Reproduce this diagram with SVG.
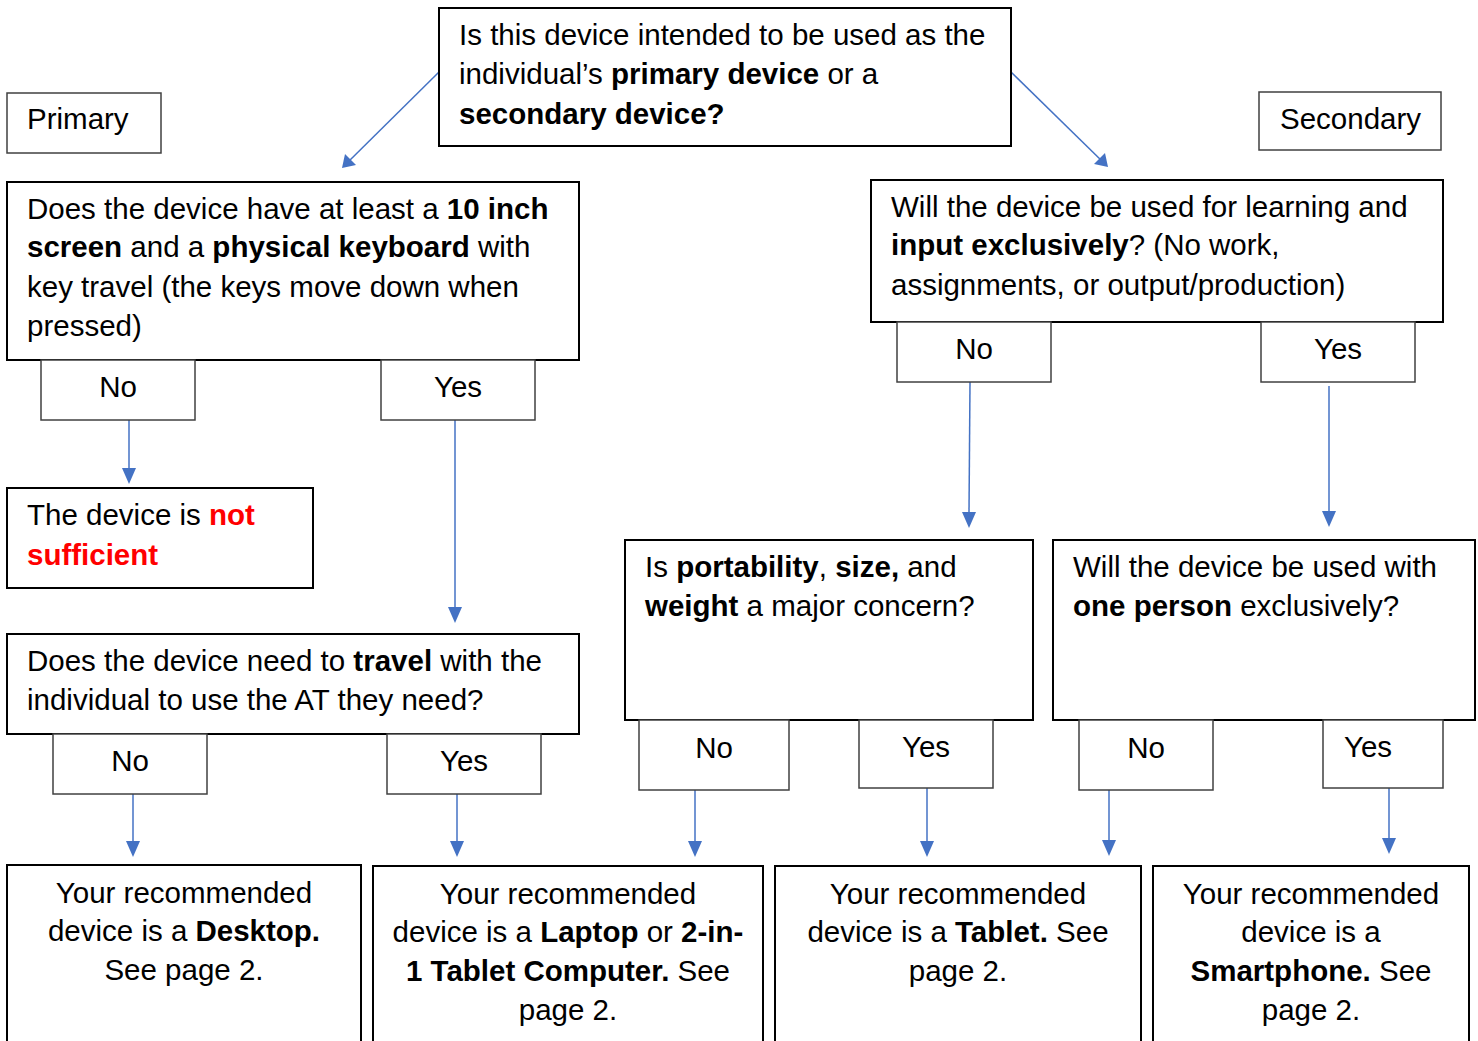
<svg xmlns="http://www.w3.org/2000/svg" width="1478" height="1041" viewBox="0 0 1478 1041">
<style>
.box{fill:#fff;stroke:#000;stroke-width:2}
.lbl{fill:#fff;stroke:#404040;stroke-width:1.5}
text{font-family:"Liberation Sans",Arial,sans-serif;font-size:29.5px;fill:#000}
.c{text-anchor:middle}
.b{font-weight:bold}
.r{fill:#ff0000;font-weight:bold}
.con{stroke:#4472C4;stroke-width:1.5;fill:none}
.ah{fill:#4472C4}
</style>
<rect width="1478" height="1041" fill="#fff"/>

<g id="connectors">
<line class="con" x1="439" y1="72" x2="346" y2="164"/>
<path class="ah" d="M342,168 L345,154 L356,165 z"/>
<line class="con" x1="1011" y1="72" x2="1104" y2="163"/>
<path class="ah" d="M1108,167 L1094,164 L1105,153 z"/>
<line class="con" x1="129" y1="420" x2="129" y2="470"/>
<path class="ah" d="M122,468 L136,468 L129,484 z"/>
<line class="con" x1="455" y1="420" x2="455" y2="609"/>
<path class="ah" d="M448,607 L462,607 L455,623 z"/>
<line class="con" x1="133" y1="794" x2="133" y2="843"/>
<path class="ah" d="M126,841 L140,841 L133,857 z"/>
<line class="con" x1="457" y1="794" x2="457" y2="843"/>
<path class="ah" d="M450,841 L464,841 L457,857 z"/>
<line class="con" x1="970" y1="382" x2="969" y2="514"/>
<path class="ah" d="M962,512 L976,512 L969,528 z"/>
<line class="con" x1="1329" y1="386" x2="1329" y2="513"/>
<path class="ah" d="M1322,511 L1336,511 L1329,527 z"/>
<line class="con" x1="695" y1="790" x2="695" y2="843"/>
<path class="ah" d="M688,841 L702,841 L695,857 z"/>
<line class="con" x1="927" y1="788" x2="927" y2="843"/>
<path class="ah" d="M920,841 L934,841 L927,857 z"/>
<line class="con" x1="1109" y1="790" x2="1109" y2="842"/>
<path class="ah" d="M1102,840 L1116,840 L1109,856 z"/>
<line class="con" x1="1389" y1="788" x2="1389" y2="840"/>
<path class="ah" d="M1382,838 L1396,838 L1389,854 z"/>
</g>

<g id="q-top">
<rect class="box" x="439" y="8" width="572" height="138"/>
<text x="459" y="45">Is this device intended to be used as the</text>
<text x="459" y="84">individual’s <tspan class="b">primary device</tspan> or a</text>
<text x="459" y="124" class="b">secondary device?</text>
</g>

<g id="lbl-primary">
<rect class="lbl" x="7" y="93" width="154" height="60"/>
<text x="27" y="129">Primary</text>
</g>
<g id="lbl-secondary">
<rect class="lbl" x="1259" y="92" width="182" height="58"/>
<text x="1280" y="129">Secondary</text>
</g>

<g id="q-screen">
<rect class="box" x="7" y="182" width="572" height="178"/>
<text x="27" y="219">Does the device have at least a <tspan class="b">10 inch</tspan></text>
<text x="27" y="257"><tspan class="b">screen</tspan> and a <tspan class="b">physical keyboard</tspan> with</text>
<text x="27" y="297">key travel (the keys move down when</text>
<text x="27" y="336">pressed)</text>
</g>
<g id="screen-no">
<rect class="lbl" x="41" y="360" width="154" height="60"/>
<text class="c" x="118" y="397">No</text>
</g>
<g id="screen-yes">
<rect class="lbl" x="381" y="360" width="154" height="60"/>
<text class="c" x="458" y="397">Yes</text>
</g>

<g id="not-sufficient">
<rect class="box" x="7" y="488" width="306" height="100"/>
<text x="27" y="525">The device is <tspan class="r">not</tspan></text>
<text x="27" y="565" class="r">sufficient</text>
</g>

<g id="q-travel">
<rect class="box" x="7" y="634" width="572" height="100"/>
<text x="27" y="671">Does the device need to <tspan class="b">travel</tspan> with the</text>
<text x="27" y="710">individual to use the AT they need?</text>
</g>
<g id="travel-no">
<rect class="lbl" x="53" y="734" width="154" height="60"/>
<text class="c" x="130" y="771">No</text>
</g>
<g id="travel-yes">
<rect class="lbl" x="387" y="734" width="154" height="60"/>
<text class="c" x="464" y="771">Yes</text>
</g>

<g id="q-learning">
<rect class="box" x="871" y="180" width="572" height="142"/>
<text x="891" y="217">Will the device be used for learning and</text>
<text x="891" y="255"><tspan class="b">input exclusively</tspan>? (No work,</text>
<text x="891" y="295">assignments, or output/production)</text>
</g>
<g id="learning-no">
<rect class="lbl" x="897" y="322" width="154" height="60"/>
<text class="c" x="974" y="359">No</text>
</g>
<g id="learning-yes">
<rect class="lbl" x="1261" y="322" width="154" height="60"/>
<text class="c" x="1338" y="359">Yes</text>
</g>

<g id="q-portability">
<rect class="box" x="625" y="540" width="408" height="180"/>
<text x="645" y="577">Is <tspan class="b">portability</tspan>, <tspan class="b">size,</tspan> and</text>
<text x="645" y="616"><tspan class="b">weight</tspan> a major concern?</text>
</g>
<g id="portability-no">
<rect class="lbl" x="639" y="720" width="150" height="70"/>
<text class="c" x="714" y="758">No</text>
</g>
<g id="portability-yes">
<rect class="lbl" x="859" y="720" width="134" height="68"/>
<text class="c" x="926" y="757">Yes</text>
</g>

<g id="q-oneperson">
<rect class="box" x="1053" y="540" width="422" height="180"/>
<text x="1073" y="577">Will the device be used with</text>
<text x="1073" y="616"><tspan class="b">one person</tspan> exclusively?</text>
</g>
<g id="oneperson-no">
<rect class="lbl" x="1079" y="720" width="134" height="70"/>
<text class="c" x="1146" y="758">No</text>
</g>
<g id="oneperson-yes">
<rect class="lbl" x="1323" y="720" width="120" height="68"/>
<text class="c" x="1368" y="757">Yes</text>
</g>

<g id="r-desktop">
<rect class="box" x="7" y="865" width="354" height="200"/>
<text class="c" x="184" y="903">Your recommended</text>
<text class="c" x="184" y="941">device is a <tspan class="b">Desktop.</tspan></text>
<text class="c" x="184" y="980">See page 2.</text>
</g>
<g id="r-laptop">
<rect class="box" x="373" y="866" width="390" height="200"/>
<text class="c" x="568" y="904">Your recommended</text>
<text class="c" x="568" y="942">device is a <tspan class="b">Laptop</tspan> or <tspan class="b">2-in-</tspan></text>
<text class="c" x="568" y="981"><tspan class="b">1 Tablet Computer.</tspan> See</text>
<text class="c" x="568" y="1020">page 2.</text>
</g>
<g id="r-tablet">
<rect class="box" x="775" y="866" width="366" height="200"/>
<text class="c" x="958" y="904">Your recommended</text>
<text class="c" x="958" y="942">device is a <tspan class="b">Tablet.</tspan> See</text>
<text class="c" x="958" y="981">page 2.</text>
</g>
<g id="r-smartphone">
<rect class="box" x="1153" y="866" width="316" height="200"/>
<text class="c" x="1311" y="904">Your recommended</text>
<text class="c" x="1311" y="942">device is a</text>
<text class="c" x="1311" y="981"><tspan class="b">Smartphone.</tspan> See</text>
<text class="c" x="1311" y="1020">page 2.</text>
</g>
</svg>
